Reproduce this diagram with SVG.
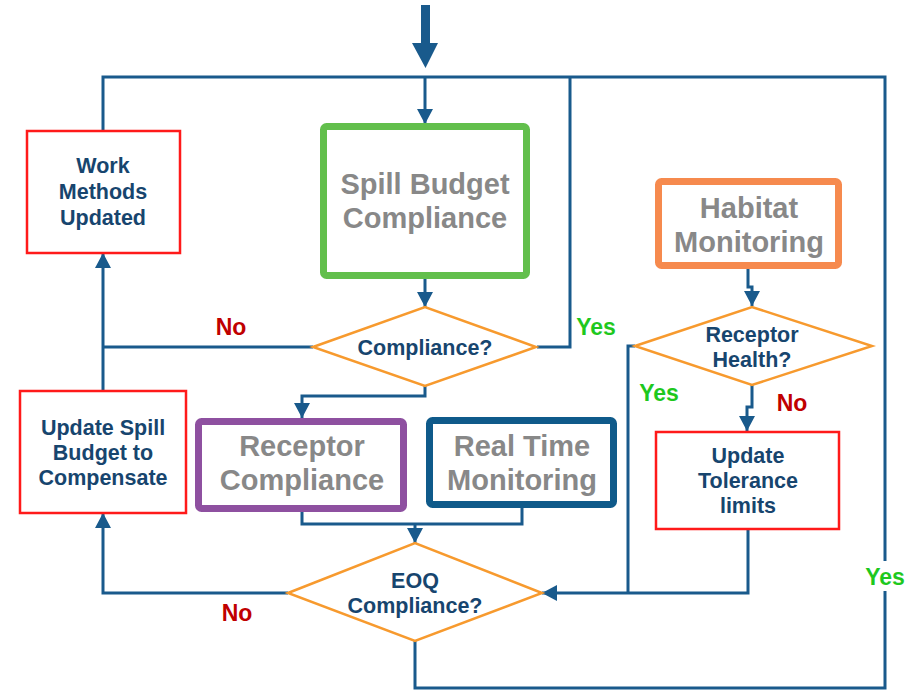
<svg xmlns="http://www.w3.org/2000/svg" width="910" height="690" viewBox="0 0 910 690">
<defs>
<marker id="ah" markerUnits="userSpaceOnUse" markerWidth="16" markerHeight="16" refX="15" refY="8" orient="auto">
<path d="M0,0 L15,8 L0,16 z" fill="#195a8c"/>
</marker>
<style>
.c{fill:none;stroke:#195a8c;stroke-width:3}
.ca{fill:none;stroke:#195a8c;stroke-width:3;marker-end:url(#ah)}
.big{font-family:"Liberation Sans",Arial,sans-serif;font-weight:bold;font-size:29px;fill:#888888;text-anchor:middle}
.sm{font-family:"Liberation Sans",Arial,sans-serif;font-weight:bold;font-size:21.5px;fill:#17456e;text-anchor:middle}
.red{fill:#fff;stroke:#ff1a1a;stroke-width:2.5}
.dia{fill:#fff;stroke:#f79a2e;stroke-width:2.5}
.yes{font-family:"Liberation Sans",Arial,sans-serif;font-weight:bold;font-size:23px;fill:#1ec81e;text-anchor:middle}
.no{font-family:"Liberation Sans",Arial,sans-serif;font-weight:bold;font-size:23px;fill:#c00000;text-anchor:middle}
</style>
</defs>
<rect width="910" height="690" fill="#fff"/>
<g id="connectors">
<path d="M421,5 H430 V43 H438 L425.5,68 L412,43 H421 Z" fill="#195a8c"/>
<path class="c" d="M103,131 V77 H885 V688 H415 V641"/>
<path class="c" d="M537,347 H570 V77"/>
<path class="ca" d="M425,77 V124"/>
<path class="ca" d="M425,279 V307"/>
<path class="ca" d="M313,347 H103 M103,391 V253"/>
<path class="ca" d="M425,386 V396 H302 V418"/>
<path class="c" d="M302,512 V524 H522 V508"/>
<path class="ca" d="M415,524 V543"/>
<path class="ca" d="M288,593 H103 V513"/>
<path class="ca" d="M748,269 V287 H752 V306"/>
<path class="ca" d="M752,385 V407 H747 V431"/>
<path class="c" d="M635,346 H628 V593"/>
<path class="ca" d="M748,529 V593 H542"/>
</g>
<g id="n-spill">
<rect x="323.5" y="126.5" width="203" height="149" rx="3" fill="#fff" stroke="#62bf4c" stroke-width="7"/>
<text class="big" x="425" y="194">Spill Budget</text>
<text class="big" x="425" y="228">Compliance</text>
</g>
<g id="n-work">
<rect class="red" x="27" y="131" width="153" height="122"/>
<text class="sm" x="103" y="173">Work</text>
<text class="sm" x="103" y="199">Methods</text>
<text class="sm" x="103" y="225">Updated</text>
</g>
<g id="n-compliance">
<polygon class="dia" points="313,347 425,307 536,347 425,386"/>
<text class="sm" x="425" y="355">Compliance?</text>
</g>
<g id="n-updatespill">
<rect class="red" x="20" y="391" width="166" height="122"/>
<text class="sm" x="103" y="435">Update Spill</text>
<text class="sm" x="103" y="460">Budget to</text>
<text class="sm" x="103" y="485">Compensate</text>
</g>
<g id="n-receptor">
<rect x="198.5" y="421.5" width="205" height="87" rx="3" fill="#fff" stroke="#8e50a0" stroke-width="7"/>
<text class="big" x="302" y="456">Receptor</text>
<text class="big" x="302" y="490">Compliance</text>
</g>
<g id="n-realtime">
<rect x="429.5" y="420.5" width="184" height="84" rx="3" fill="#fff" stroke="#0f5a8a" stroke-width="7"/>
<text class="big" x="522" y="456">Real Time</text>
<text class="big" x="522" y="490">Monitoring</text>
</g>
<g id="n-eoq">
<polygon class="dia" points="288,593 415,543 542,593 415,641"/>
<text class="sm" x="415" y="588">EOQ</text>
<text class="sm" x="415" y="613">Compliance?</text>
</g>
<g id="n-habitat">
<rect x="658.5" y="181.5" width="180" height="84" rx="3" fill="#fff" stroke="#f68a4e" stroke-width="7"/>
<text class="big" x="749" y="218">Habitat</text>
<text class="big" x="749" y="252">Monitoring</text>
</g>
<g id="n-health">
<polygon class="dia" points="635,346 752,307 872,346 752,385"/>
<text class="sm" x="752" y="342">Receptor</text>
<text class="sm" x="752" y="367">Health?</text>
</g>
<g id="n-tolerance">
<rect class="red" x="656" y="432" width="183" height="97"/>
<text class="sm" x="748" y="463">Update</text>
<text class="sm" x="748" y="488">Tolerance</text>
<text class="sm" x="748" y="513">limits</text>
</g>
<g id="labels">
<text class="no" x="231" y="335">No</text>
<text class="yes" x="596" y="335">Yes</text>
<text class="yes" x="659" y="401">Yes</text>
<text class="no" x="792" y="411">No</text>
<text class="no" x="237" y="621">No</text>
<rect x="862" y="561" width="46" height="30" fill="#fff"/>
<text class="yes" x="885" y="585">Yes</text>
</g>
</svg>
